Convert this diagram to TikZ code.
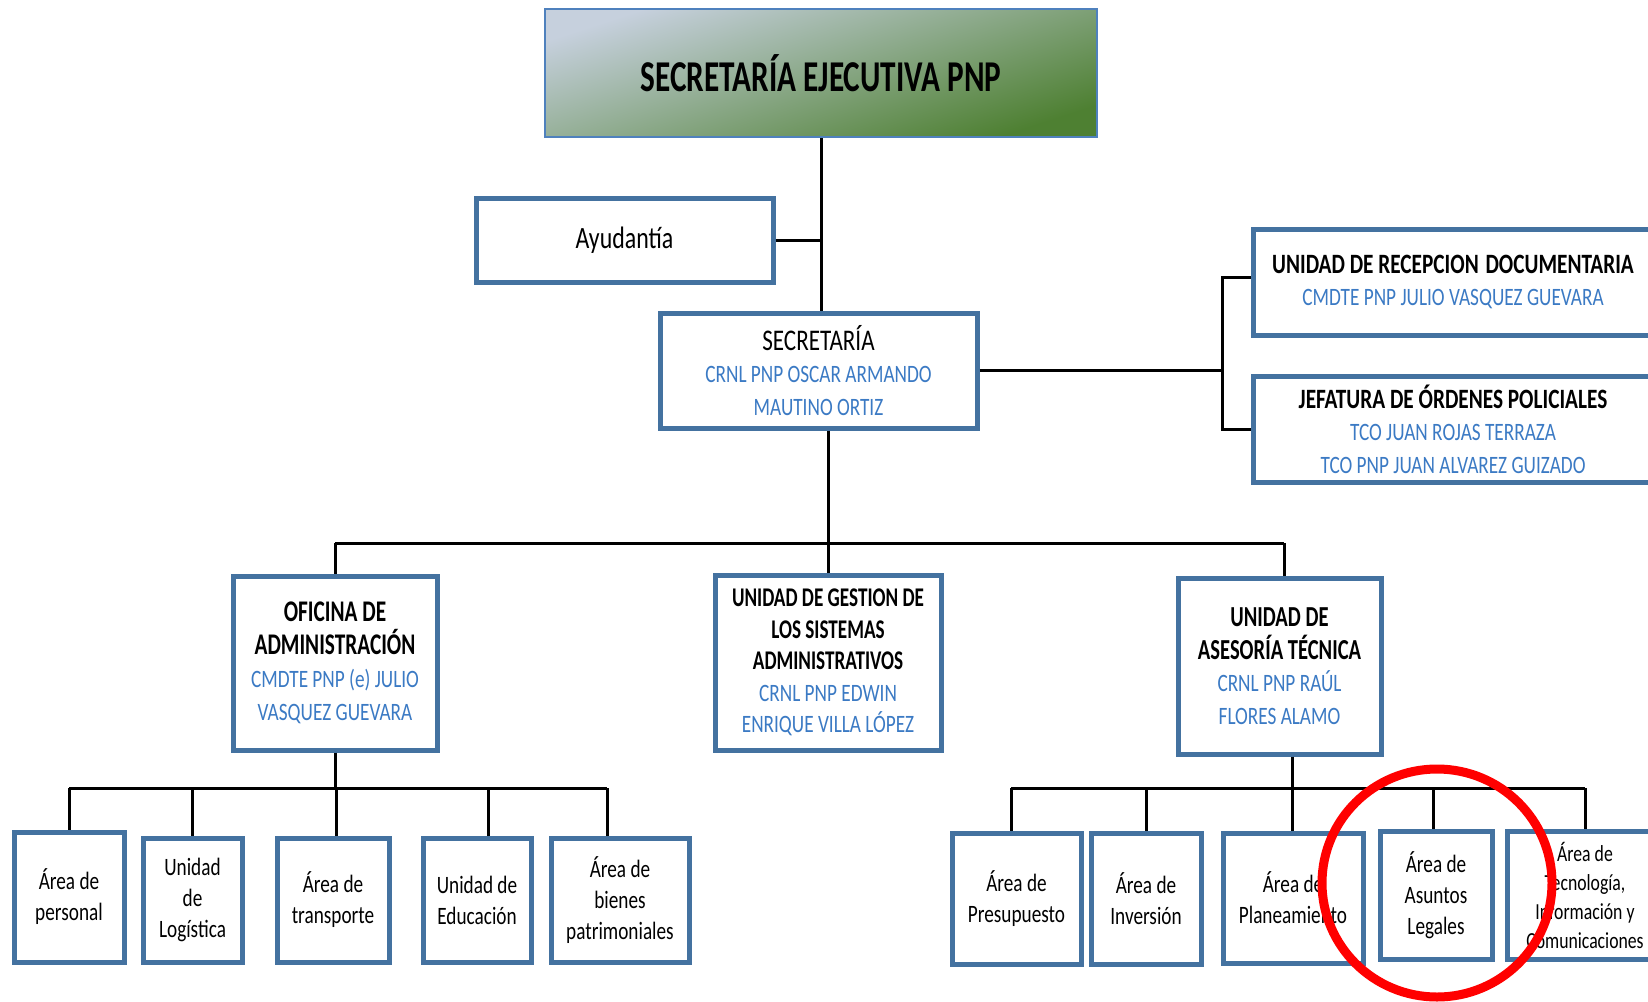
\documentclass[tikz,border=0pt]{standalone}
\usepackage{fontspec}
\setmainfont[FakeStretch=0.77]{Carlito}
\newfontfamily\hfont[FakeStretch=0.71]{Carlito}
\newfontfamily\rfont[FakeStretch=0.76]{Carlito}
\definecolor{boxblue}{RGB}{68,114,160}
\definecolor{txtblue}{RGB}{59,122,196}
\definecolor{ttl}{RGB}{198,208,221}
\definecolor{tbr}{RGB}{78,128,50}
\definecolor{tborder}{RGB}{79,129,189}
\newcommand{\bluetxt}[1]{\textcolor{txtblue}{#1}}
\newcommand{\hdtxt}[2]{{\hfont\bfseries\fontsize{#1}{16}\selectfont #2}}
\tikzset{
  box/.style={draw=boxblue,line width=2.5pt,fill=white,inner sep=0pt,align=center},
  sz/.style 2 args={minimum width=#1*0.5pt,minimum height=#2*0.5pt},
  conn/.style={draw=black,line width=1.5pt},
  titlebox/.style={draw=tborder,line width=1.2pt,top color=ttl,bottom color=tbr,shading angle=18,
    inner sep=0pt,font=\hfont\bfseries\fontsize{22}{26}\selectfont},
  small/.style={font=\fontsize{12.5}{15.5}\selectfont}
}
\begin{document}
\begin{tikzpicture}[x=0.5pt,y=-0.5pt]
\path[use as bounding box] (0,0) rectangle (1648,1001);
\clip (0,0) rectangle (1648,1001);

% top level
\node[titlebox,sz={552}{128}] (top) at (821,73) {SECRETARÍA EJECUTIVA PNP};
\node[box,sz={297}{84},font=\fontsize{15.5}{18}\selectfont] (ayud) at (624.5,240) {Ayudantía};
\node[box,sz={317}{115},font=\fontsize{12.5}{16.25}\selectfont] (secr) at (818.5,370.5)
  {{\fontsize{15}{16.25}\selectfont SECRETARÍA}\\ \bluetxt{CRNL PNP OSCAR ARMANDO}\\ \bluetxt{MAUTINO ORTIZ}};
\node[box,sz={400}{106},font=\fontsize{12.5}{16}\selectfont] (recep) at (1453,282)
  {{\rfont\bfseries\fontsize{14}{16}\selectfont UNIDAD DE RECEPCION\hspace{1pt} DOCUMENTARIA}\\ \bluetxt{CMDTE PNP JULIO VASQUEZ GUEVARA}};
\node[box,sz={400}{106},font=\fontsize{12.5}{16.25}\selectfont] (jefat) at (1453,429)
  {{\rfont\bfseries\fontsize{14}{16}\selectfont JEFATURA DE ÓRDENES POLICIALES}\\ \bluetxt{TCO JUAN ROJAS TERRAZA}\\ \bluetxt{TCO PNP JUAN ALVAREZ GUIZADO}};

% middle level
\node[box,sz={204}{174},font=\fontsize{12.5}{16.5}\selectfont] (ofic) at (335,663)
  {\hdtxt{15}{OFICINA DE}\\ \hdtxt{15}{ADMINISTRACIÓN}\\ \bluetxt{CMDTE PNP (e) JULIO}\\ \bluetxt{VASQUEZ GUEVARA}};
\node[box,sz={226}{175},font=\fontsize{12.5}{15.75}\selectfont] (gest) at (828,662.5)
  {\hdtxt{13.5}{UNIDAD DE GESTION DE}\\ \hdtxt{13.5}{LOS SISTEMAS}\\ \hdtxt{13.5}{ADMINISTRATIVOS}\\ \bluetxt{CRNL PNP EDWIN}\\ \bluetxt{ENRIQUE VILLA LÓPEZ}};
\node[box,sz={203}{176},font=\fontsize{12.5}{16.3}\selectfont] (ases) at (1279.5,666)
  {\hdtxt{14.5}{UNIDAD DE}\\ \hdtxt{14.5}{ASESORÍA TÉCNICA}\\ \bluetxt{CRNL PNP RAÚL}\\ \bluetxt{FLORES ALAMO}};

% bottom left
\node[box,small,sz={110}{130}] (l1) at (69,897) {Área de\\ personal};
\node[box,small,sz={99}{124}] (l2) at (192.5,900) {Unidad\\ de\\ Logística};
\node[box,small,sz={112}{124}] (l3) at (333,900) {Área de\\ transporte};
\node[box,small,sz={108}{124}] (l4) at (477,900) {Unidad de\\ Educación};
\node[box,small,sz={138}{124}] (l5) at (620,900) {Área de\\ bienes\\ patrimoniales};

% bottom right
\node[box,small,sz={129}{131}] (r1) at (1016.5,898.5) {Área de\\ Presupuesto};
\node[box,small,sz={110}{131}] (r2) at (1146,898.5) {Área de\\ Inversión};
\node[box,small,sz={140}{130}] (r3) at (1293,898) {Área de\\ Planeamiento};
\node[box,small,sz={112}{128}] (r4) at (1436,895) {Área de\\ Asuntos\\ Legales};
\node[box,sz={156}{128},font=\fontsize{11.5}{14.5}\selectfont] (r5) at (1585,895) {Área de\\ Tecnología,\\ Información y\\ Comunicaciones};

% coordinates for bars
\coordinate (brk) at (1222,371);
\coordinate (midbar) at (0,543);
\coordinate (dma) at (1284,543);
\coordinate (lbar) at (0,788);
\coordinate (rbar) at (0,788);
\coordinate (dl3) at (336,788);
\coordinate (dl4) at (488,788);
\coordinate (dl5) at (607,788);
\coordinate (dr1) at (1011,788);
\coordinate (dra) at (1292,788);
\coordinate (dr4) at (1433,788);

% connectors top
\draw[conn] (top.south) -- (top.south |- secr.north);
\draw[conn] (ayud.east) -- (ayud.east -| top.south);
\draw[conn] (secr.east) -- (secr.east -| brk);
\draw[conn] ([yshift=2.5pt]recep.west) -- ([yshift=2.5pt]recep.west -| brk) -- (jefat.west -| brk) -- (jefat.west);

% connectors middle
\draw[conn] (secr.south -| gest.north) -- (gest.north);
\draw[conn] (ofic.north |- midbar) -- (dma);
\draw[conn] (ofic.north |- midbar) -- (ofic.north);
\draw[conn] (dma) -- (dma |- ases.north);

% connectors bottom left
\draw[conn] (ofic.south) -- (ofic.south |- lbar);
\draw[conn] (l1.north |- lbar) -- (dl5);
\draw[conn] (l1.north |- lbar) -- (l1.north);
\draw[conn] (l2.north |- lbar) -- (l2.north);
\draw[conn] (dl3) -- (dl3 |- l3.north);
\draw[conn] (dl4) -- (dl4 |- l4.north);
\draw[conn] (dl5) -- (dl5 |- l5.north);

% connectors bottom right
\draw[conn] (ases.south -| dra) -- (dra);
\draw[conn] (dr1) -- (r5.north |- rbar);
\draw[conn] (dr1) -- (dr1 |- r1.north);
\draw[conn] (r2.north |- rbar) -- (r2.north);
\draw[conn] (dra) -- (dra |- r3.north);
\draw[conn] (dr4) -- (dr4 |- r4.north);
\draw[conn] (r5.north |- rbar) -- (r5.north);

% red highlight
\draw[red,line width=4.5pt] (1437,883) ellipse [x radius=57.5pt, y radius=57pt];
\end{tikzpicture}
\end{document}
